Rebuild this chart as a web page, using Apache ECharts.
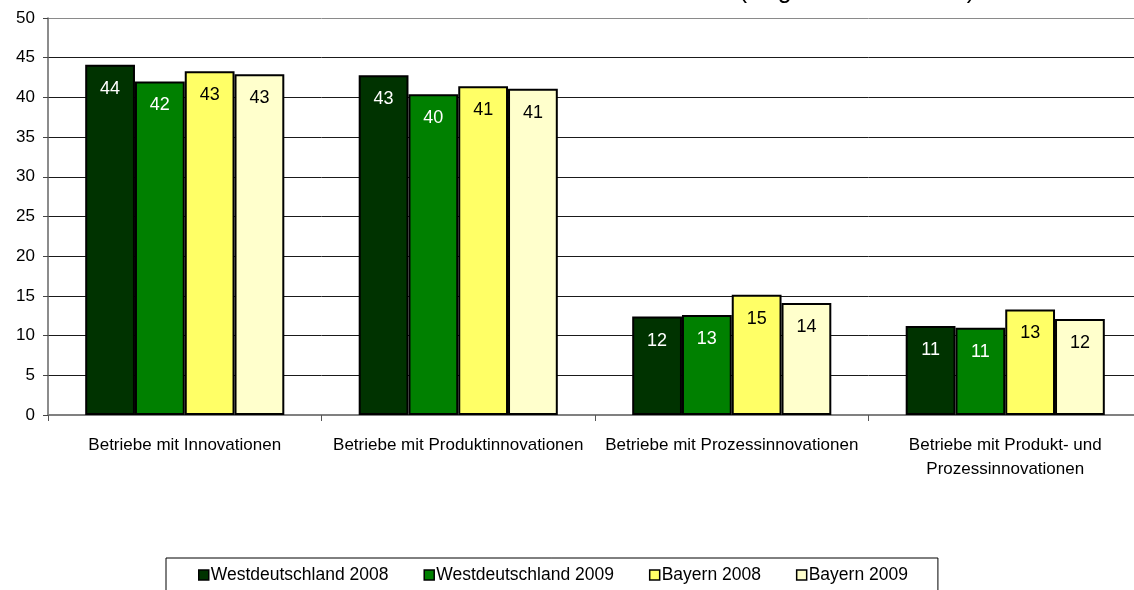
<!DOCTYPE html>
<html>
<head>
<meta charset="utf-8">
<script src="https://cdn.jsdelivr.net/npm/echarts@6/dist/echarts.min.js"></script>
<style>
html,body{margin:0;padding:0;background:#fff;overflow:hidden;}
#chart{width:1142px;height:590px;}
</style>
</head>
<body>
<div id="chart"></div>
<script>
const categories = ['Betriebe mit Innovationen', 'Betriebe mit Produktinnovationen', 'Betriebe mit Prozessinnovationen', 'Betriebe mit Produkt- und\nProzessinnovationen'];
const seriesNames = ['Westdeutschland 2008', 'Westdeutschland 2009', 'Bayern 2008', 'Bayern 2009'];
const west2008 = [44.1, 42.8, 12.4, 11.2];
const west2009 = [42.0, 40.4, 12.6, 11.0];
const bayern2008 = [43.3, 41.4, 15.15, 13.3];
const bayern2009 = [42.9, 41.1, 14.1, 12.1];
const yTicks = [0, 5, 10, 15, 20, 25, 30, 35, 40, 45, 50];

const FONT = "'Liberation Sans', Arial, sans-serif";
const colors = ['#003300', '#008000', '#FFFF66', '#FFFFCC'];
const labelColors = ['#ffffff', '#ffffff', '#000000', '#000000'];
const values = [west2008, west2009, bayern2008, bayern2009];

const chart = echarts.init(document.getElementById('chart'), null, {renderer: 'canvas'});
const gridColors = yTicks.map((v, i) => i === yTicks.length - 1 ? '#8a8a8a' : '#1a1a1a');

chart.setOption({
  animation: false,
  backgroundColor: '#ffffff',
  textStyle: {fontFamily: FONT},
  graphic: [{
    type: 'text',
    x: 975, y: -9,
    style: {text: '(Angaben in Prozent)', font: '25px ' + FONT, fill: '#000', textAlign: 'right', verticalAlign: 'middle'}
  }],
  grid: {left: 48, right: 0, top: 18, bottom: 175, containLabel: false},
  legend: {
    data: seriesNames,
    left: 166, top: 558,
    padding: [8, 30, 24, 32],
    borderColor: '#000', borderWidth: 1,
    itemWidth: 10, itemHeight: 10, itemGap: 35,
    icon: 'rect',
    itemStyle: {borderColor: '#000', borderWidth: 1.5},
    textStyle: {fontSize: 17.5, color: '#000', fontFamily: FONT, padding: [0, 0, 0, -3]}
  },
  xAxis: {
    type: 'category',
    data: categories,
    axisLine: {lineStyle: {color: '#808080', width: 2}},
    axisTick: {show: true, alignWithLabel: false, length: 6, lineStyle: {color: '#555', width: 1}},
    axisLabel: {interval: 0, fontSize: 17, color: '#000', margin: 18, lineHeight: 24, fontFamily: FONT}
  },
  yAxis: {
    type: 'value', min: 0, max: 50, interval: 5,
    axisLine: {show: true, lineStyle: {color: '#666', width: 1.5}},
    axisTick: {show: true, length: 5, lineStyle: {color: '#444'}},
    axisLabel: {fontSize: 17, color: '#000', margin: 13, fontFamily: FONT},
    splitLine: {show: true, lineStyle: {color: gridColors, width: 1}}
  },
  series: seriesNames.map((name, i) => ({
    name: name,
    type: 'bar',
    data: values[i],
    barGap: '0%',
    barCategoryGap: '27.2%',
    itemStyle: {color: colors[i], borderColor: '#000', borderWidth: 2},
    label: {
      show: true, position: 'insideTop', distance: 15,
      formatter: p => Math.round(p.value),
      fontSize: 18, color: labelColors[i], fontFamily: FONT
    }
  }))
});
</script>
</body>
</html>
